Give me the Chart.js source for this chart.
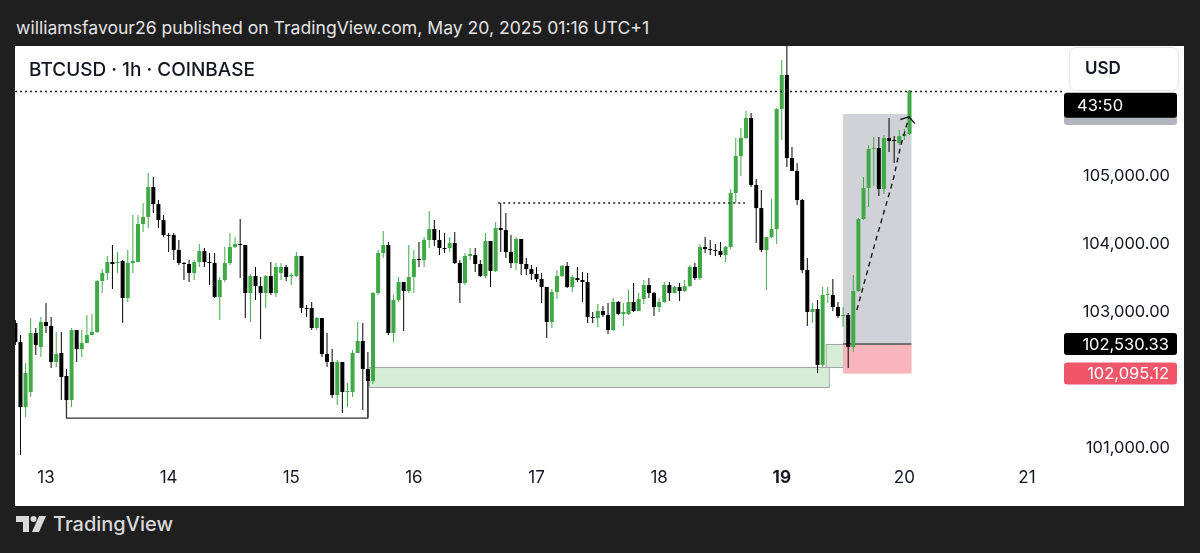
<!DOCTYPE html>
<html>
<head>
<meta charset="utf-8">
<title>BTCUSD 1h</title>
<script src="https://cdn.jsdelivr.net/npm/chart.js@4.4.1/dist/chart.umd.min.js"></script>
<style>
  html, body { margin: 0; padding: 0; }
  body { width: 1200px; height: 553px; background: #1f1f1f; position: relative; overflow: hidden; font-family: Inter, "Noto Sans", sans-serif; }
  #header { position: absolute; left: 16px; top: 17px; color: #e4e4e4; font-size: 17.6px; line-height: 22px; white-space: nowrap; }
  #panel { position: absolute; left: 15px; top: 46px; width: 1169px; height: 460px; background: #fff; }
  #panel canvas { position: absolute; left: 0; top: 0; }
  #symbol { position: absolute; left: 14px; top: 13px; font-size: 19px; line-height: 22px; font-weight: 500; color: #131722; z-index: 2; }
  #footer { position: absolute; left: 16px; top: 512px; height: 24px; color: #d9d9d9; font-size: 20px; font-weight: 500; display: flex; align-items: center; }
  #footer svg { margin-right: 7px; }
</style>
</head>
<body>
<div id="header">williamsfavour26 published on TradingView.com, May 20, 2025 01:16 UTC+1</div>
<div id="panel">
  <div id="symbol">BTCUSD · 1h · COINBASE</div>
  <canvas id="btcChart" width="1169" height="460"></canvas>
</div>
<div id="footer">
  <svg width="30" height="16" viewBox="0 0 30 16">
    <path d="M0 0 H13 V16 H7 V6 H0 Z" fill="#d9d9d9"/>
    <circle cx="17.5" cy="3" r="3" fill="#d9d9d9"/>
    <path d="M23 0 H30 L23 16 H16 Z" fill="#d9d9d9"/>
  </svg>
  <span>TradingView</span>
</div>

<script>
// First candle is May 12 18:00, hours counted from May 13 00:00
const firstHour = -6;

const opens = [
  102838, 102559, 101603, 101824, 102691, 102485,
  102853, 102794, 102265, 102397, 102059, 101706, 102735, 102456, 102544, 102662, 102706, 103456,
  103574, 103735, 103721, 103750, 103206, 103721, 103735, 104294, 104397, 104838, 104588, 104353,
  104132, 104132, 103912, 103721, 103706, 103574, 103735, 103897, 103735, 103721, 103221, 103471,
  103721, 103956, 104000, 103985, 103279, 103529, 103382, 103279, 103529, 103279, 103574, 103662,
  103529, 103529, 103824, 103059, 103059, 102765, 102912, 102382, 102265, 101779, 102265, 101824,
  101824, 102397, 102574, 102162, 101985, 103279, 103868, 103985, 102691, 103176, 103441, 103309,
  103515, 103779, 103765, 104059, 104221, 104059, 103941, 103941, 104015, 103721, 103426, 103824,
  103838, 103706, 103529, 104044, 103603, 104235, 104206, 103882, 103721, 104074, 103706, 103632,
  103559, 103485, 103368, 102853, 103294, 103529, 103676, 103368, 103500, 103471, 103441, 102926,
  102912, 103015, 102956, 102735, 103147, 102971, 102971, 103147, 103015, 103191, 103397, 103279,
  103074, 103147, 103397, 103279, 103368, 103309, 103382, 103662, 103500, 103956, 103926, 103912,
  103897, 103838, 103956, 104750, 105294, 105559, 105853, 104868, 104529, 103912, 104103, 104221,
  105985, 106485, 105265, 105074, 104647, 103618, 103000, 103044, 102221, 103250, 103250, 103074,
  102941, 102956, 102485, 103309, 104368, 104824, 105397, 105412, 104809, 105559, 105529, 105485,
  105588, 105618
];
const highs = [
  102882, 102662, 102250, 102912, 102765, 102926,
  103132, 102926, 102706, 102706, 102162, 102765, 102735, 102735, 102956, 102971, 103471, 103632,
  103824, 103985, 103882, 103765, 103912, 104426, 104426, 104603, 105044, 104985, 104647, 104426,
  104162, 104162, 104059, 103735, 103765, 103765, 104000, 103941, 103868, 103868, 103515, 103956,
  104162, 104103, 104368, 103985, 103559, 103662, 103515, 103544, 103735, 103721, 103721, 103691,
  103574, 103882, 103824, 103103, 103147, 102926, 102912, 102691, 102456, 102294, 102265, 101956,
  102441, 102853, 102838, 102412, 103294, 103912, 104191, 104029, 103250, 103515, 103441, 103985,
  103912, 104029, 104103, 104485, 104353, 104206, 104162, 104103, 104176, 103765, 103868, 103941,
  103941, 103765, 104162, 104044, 104324, 104603, 104456, 104132, 104103, 104074, 103794, 103691,
  103662, 103574, 103368, 103338, 103618, 103691, 103735, 103544, 103662, 103588, 103574, 103000,
  103118, 103088, 103132, 103206, 103162, 103132, 103324, 103426, 103279, 103471, 103500, 103294,
  103206, 103441, 103441, 103382, 103426, 103471, 103691, 103721, 104000, 104103, 104059, 104000,
  104029, 103971, 104809, 105559, 105706, 105956, 105926, 104956, 104794, 104103, 104662, 106000,
  106706, 107100, 105426, 105191, 104662, 103794, 103132, 103176, 103368, 103368, 103485, 103147,
  103074, 102985, 103544, 104382, 104985, 105456, 105574, 105574, 105603, 105853, 105588, 105676,
  105691, 106265
];
const lows = [
  102515, 100897, 101456, 101750, 102368, 102338,
  102691, 102176, 102191, 101706, 101603, 101603, 102265, 102338, 102544, 102662, 102691, 103279,
  103471, 103338, 103574, 102838, 103147, 103574, 103735, 104176, 104235, 104456, 104235, 104103,
  103882, 103765, 103691, 103471, 103441, 103471, 103662, 103662, 103397, 103206, 102882, 103441,
  103691, 103941, 103500, 102912, 102853, 103176, 102603, 103059, 103250, 103221, 103471, 103456,
  103397, 103515, 102985, 102926, 102735, 102735, 102338, 102191, 101735, 101632, 101515, 101603,
  101750, 102397, 101559, 101456, 101941, 103250, 103794, 102662, 102559, 103147, 102721, 103279,
  103279, 103662, 103662, 103941, 103971, 103838, 103868, 103882, 103706, 103132, 103397, 103765,
  103588, 103515, 103500, 103368, 103588, 103882, 103794, 103647, 103618, 103544, 103544, 103471,
  103441, 103132, 102618, 102765, 103191, 103515, 103353, 103294, 103441, 103147, 102838, 102838,
  102779, 102926, 102676, 102721, 102956, 102794, 102956, 103000, 103015, 103118, 103206, 102941,
  103000, 103132, 103162, 103279, 103162, 103294, 103368, 103471, 103471, 103868, 103838, 103824,
  103809, 103735, 103926, 104603, 105000, 105544, 104838, 104015, 103882, 103324, 104088, 104000,
  105529, 105132, 105074, 104574, 103574, 102794, 102838, 102103, 102191, 103132, 103015, 102912,
  102779, 102176, 102412, 103294, 104353, 104544, 104853, 104706, 104735, 105353, 105191, 105456,
  105529, 105603
];
const closes = [
  102559, 101603, 102103, 102691, 102515, 102853,
  102794, 102265, 102382, 102044, 101706, 102735, 102456, 102544, 102662, 102706, 103456, 103574,
  103735, 103706, 103735, 103206, 103721, 103750, 104294, 104397, 104838, 104588, 104353, 104132,
  104118, 103912, 103721, 103706, 103574, 103735, 103897, 103735, 103721, 103221, 103471, 103721,
  103956, 104000, 103985, 103279, 103529, 103382, 103279, 103529, 103279, 103662, 103662, 103515,
  103544, 103824, 103059, 103044, 102765, 102912, 102382, 102265, 101779, 102265, 101824, 101838,
  102397, 102574, 102162, 101985, 103279, 103868, 103985, 102691, 103176, 103441, 103309, 103515,
  103779, 103765, 104059, 104221, 104059, 103941, 103926, 104015, 103721, 103426, 103824, 103853,
  103706, 103529, 104044, 103603, 104235, 104206, 103882, 103721, 104074, 103706, 103632, 103559,
  103485, 103368, 102853, 103294, 103529, 103676, 103368, 103515, 103471, 103441, 102926, 102912,
  103015, 102956, 102735, 103147, 102971, 103000, 103147, 103015, 103191, 103397, 103279, 103074,
  103147, 103397, 103279, 103368, 103309, 103382, 103662, 103500, 103956, 103926, 103912, 103897,
  103838, 103956, 104750, 105294, 105559, 105853, 104868, 104529, 103912, 104103, 104221, 105985,
  106485, 105265, 105074, 104647, 103618, 103000, 103044, 102221, 103250, 103265, 103074, 102941,
  102956, 102485, 103309, 104368, 104824, 105397, 105412, 104809, 105559, 105515, 105515, 105588,
  105618, 106255
];

// X axis: one label per day (hour 0 = May 13)
const dayTicks = [0, 24, 48, 72, 96, 120, 144, 168, 192];
const dayLabels = ['13', '14', '15', '16', '17', '18', '19', '20', '21'];
const priceTicks = [101000, 103000, 104000, 105000];

// Drawings on the chart, in [hour, price] terms
const demandZones = [
  [63.2, 153.2, 101897, 102191],
  [152.6, 158.2, 102191, 102530]
];
const entryPrice = 102530.33;
const stopPrice = 102095.12;
const targetPrice = 105912;
const positionHours = [156.0, 169.4];
const bracket = { from: 4, to: 63, level: 101440, leftTop: 101706, rightTop: 101985 };
const swingHigh = { from: 88.5, to: 136.8, level: 104603 };
const lastPriceLine = 106250;
const arrowPath = [[158.7, 103030], [162.2, 104000], [165.8, 104940], [167.2, 105420], [168.9, 105870]];

const GREEN = '#3fa946';
const BLACK = '#000000';
const AXIS_FONT = '"Inter", "Noto Sans", sans-serif';

function fmt(v) {
  return v.toLocaleString('en-US', { minimumFractionDigits: 2, maximumFractionDigits: 2 });
}

const hours = closes.map((c, i) => firstHour + i);
const candleColors = closes.map((c, i) => (c >= opens[i] ? GREEN : BLACK));

// Zones, boxes, lines and the price labels of the drawing tools
const drawings = {
  id: 'drawings',
  beforeDatasetsDraw(chart) {
    const { ctx, chartArea: a, scales: { x, y } } = chart;
    ctx.save();
    ctx.beginPath();
    ctx.rect(a.left, a.top, a.right - a.left, a.bottom - a.top);
    ctx.clip();

    demandZones.forEach(z => {
      const x0 = x.getPixelForValue(z[0]), x1 = x.getPixelForValue(z[1]);
      const y0 = y.getPixelForValue(z[3]), y1 = y.getPixelForValue(z[2]);
      ctx.fillStyle = '#d6ecd6';
      ctx.fillRect(x0, y0, x1 - x0, y1 - y0);
      ctx.strokeStyle = '#a5a5a5';
      ctx.lineWidth = 1;
      ctx.strokeRect(x0 + 0.5, y0 + 0.5, x1 - x0, y1 - y0);
    });

    // long position tool
    const px0 = x.getPixelForValue(positionHours[0]);
    const px1 = x.getPixelForValue(positionHours[1]);
    const yEntry = y.getPixelForValue(entryPrice);
    const yTarget = y.getPixelForValue(targetPrice);
    const yStop = y.getPixelForValue(stopPrice);
    ctx.fillStyle = '#d1d2d8';
    ctx.fillRect(px0, yTarget, px1 - px0, yEntry - yTarget);
    ctx.fillStyle = '#fab4bb';
    ctx.fillRect(px0, yEntry, px1 - px0, yStop - yEntry);
    ctx.strokeStyle = '#555555';
    ctx.lineWidth = 1.5;
    ctx.beginPath();
    ctx.moveTo(px0, yEntry);
    ctx.lineTo(px1, yEntry);
    ctx.stroke();
    ctx.restore();
  },

  afterDatasetsDraw(chart) {
    const { ctx, chartArea: a, scales: { x, y } } = chart;
    ctx.save();

    // range bracket under the lows
    ctx.strokeStyle = '#333333';
    ctx.lineWidth = 1.3;
    ctx.beginPath();
    ctx.moveTo(x.getPixelForValue(bracket.from), y.getPixelForValue(bracket.leftTop));
    ctx.lineTo(x.getPixelForValue(bracket.from), y.getPixelForValue(bracket.level));
    ctx.lineTo(x.getPixelForValue(bracket.to), y.getPixelForValue(bracket.level));
    ctx.lineTo(x.getPixelForValue(bracket.to), y.getPixelForValue(bracket.rightTop));
    ctx.stroke();

    // dotted levels
    ctx.setLineDash([2, 3]);
    ctx.strokeStyle = '#222222';
    ctx.lineWidth = 1.3;
    ctx.beginPath();
    ctx.moveTo(x.getPixelForValue(swingHigh.from), y.getPixelForValue(swingHigh.level));
    ctx.lineTo(x.getPixelForValue(swingHigh.to), y.getPixelForValue(swingHigh.level));
    const yLast = Math.round(y.getPixelForValue(lastPriceLine)) + 0.5;
    ctx.moveTo(a.left, yLast);
    ctx.lineTo(a.right + 12, yLast);
    ctx.stroke();

    // dashed projection arrow
    ctx.setLineDash([5, 4]);
    ctx.strokeStyle = '#1a1a1a';
    ctx.lineWidth = 1.4;
    ctx.beginPath();
    arrowPath.forEach((p, i) => {
      const px = x.getPixelForValue(p[0]), py = y.getPixelForValue(p[1]);
      if (i === 0) ctx.moveTo(px, py); else ctx.lineTo(px, py);
    });
    ctx.stroke();
    ctx.setLineDash([]);
    const tip = arrowPath[arrowPath.length - 1];
    const prev = arrowPath[arrowPath.length - 2];
    const tx = x.getPixelForValue(tip[0]), ty = y.getPixelForValue(tip[1]);
    const ang = Math.atan2(ty - y.getPixelForValue(prev[1]), tx - x.getPixelForValue(prev[0]));
    ctx.beginPath();
    ctx.moveTo(tx + 9 * Math.cos(ang + Math.PI - 1.0), ty + 9 * Math.sin(ang + Math.PI - 1.0));
    ctx.lineTo(tx, ty);
    ctx.lineTo(tx + 9 * Math.cos(ang + Math.PI + 1.0), ty + 9 * Math.sin(ang + Math.PI + 1.0));
    ctx.stroke();
    ctx.restore();
  },

  // price labels on the right scale
  afterDraw(chart) {
    const { ctx, chartArea: a, scales: { y } } = chart;
    const bx = a.right + 14, bw = 113;
    ctx.save();
    ctx.font = '16.5px ' + AXIS_FONT;
    ctx.textBaseline = 'middle';

    function priceBox(price, bg, text) {
      const py = y.getPixelForValue(price);
      ctx.fillStyle = bg;
      ctx.beginPath();
      ctx.roundRect(bx, py - 11, bw, 22, 3);
      ctx.fill();
      if (text) {
        ctx.fillStyle = '#ffffff';
        ctx.textAlign = 'right';
        ctx.fillText(text, bx + 105, py + 1);
      }
    }

    priceBox(targetPrice, '#b2b5be', '');
    priceBox(entryPrice, '#000000', fmt(entryPrice));
    priceBox(stopPrice, '#f0566a', fmt(stopPrice));

    // countdown under the last price
    const yLast = y.getPixelForValue(closes[closes.length - 1]);
    ctx.fillStyle = '#000000';
    ctx.beginPath();
    ctx.roundRect(bx, yLast + 2, bw, 25, 3);
    ctx.fill();
    ctx.fillStyle = '#ffffff';
    ctx.textAlign = 'left';
    ctx.fillText('43:50', bx + 13, yLast + 15);

    // currency box
    ctx.fillStyle = '#ffffff';
    ctx.strokeStyle = '#e0e3eb';
    ctx.lineWidth = 1;
    ctx.beginPath();
    ctx.roundRect(a.right + 19.5, 1.5, 109, 43, 6);
    ctx.fill();
    ctx.stroke();
    ctx.fillStyle = '#131722';
    ctx.font = '600 17px ' + AXIS_FONT;
    ctx.textAlign = 'left';
    ctx.fillText('USD', a.right + 35, 23);
    ctx.restore();
  }
};

const ctx = document.getElementById('btcChart').getContext('2d');
new Chart(ctx, {
  type: 'bar',
  data: {
    datasets: [
      {
        label: 'Body',
        data: hours.map((h, i) => ({ x: h, y: [opens[i], closes[i]] })),
        backgroundColor: candleColors,
        barThickness: 4,
        maxBarThickness: 4,
        minBarLength: 1,
        grouped: false,
        borderWidth: 0,
        inflateAmount: 0
      },
      {
        label: 'Wick',
        data: hours.map((h, i) => ({ x: h, y: [lows[i], highs[i]] })),
        backgroundColor: candleColors,
        barThickness: 1,
        maxBarThickness: 1,
        grouped: false,
        borderWidth: 0,
        inflateAmount: 0
      }
    ]
  },
  options: {
    responsive: false,
    animation: false,
    events: [],
    layout: { padding: { left: 0, right: 14, top: 0, bottom: 0 } },
    plugins: {
      legend: { display: false },
      tooltip: { enabled: false }
    },
    scales: {
      x: {
        type: 'linear',
        offset: false,
        bounds: 'data',
        min: -6.07,
        max: 196.5,
        grid: { display: false, drawTicks: false },
        border: { display: false },
        afterBuildTicks: scale => { scale.ticks = dayTicks.map(v => ({ value: v })); },
        afterFit: scale => { scale.height = 45; scale.paddingLeft = 0; scale.paddingRight = 0; },
        ticks: {
          autoSkip: false,
          maxRotation: 0,
          padding: 7,
          color: '#131722',
          font: c => ({ family: AXIS_FONT, size: 17, weight: c.tick && c.tick.value === 144 ? 'bold' : 'normal' }),
          callback: v => dayLabels[dayTicks.indexOf(v)]
        }
      },
      y: {
        position: 'right',
        bounds: 'data',
        min: 100809,
        max: 106912,
        grid: { display: false, drawTicks: false },
        border: { display: false },
        afterBuildTicks: scale => { scale.ticks = priceTicks.map(v => ({ value: v })); },
        afterFit: scale => { scale.width = 120; scale.paddingTop = 0; scale.paddingBottom = 0; },
        ticks: {
          crossAlign: 'far',
          color: '#131722',
          font: { family: AXIS_FONT, size: 16.5 },
          callback: v => fmt(v)
        }
      }
    }
  },
  plugins: [drawings]
});
</script>
</body>
</html>
